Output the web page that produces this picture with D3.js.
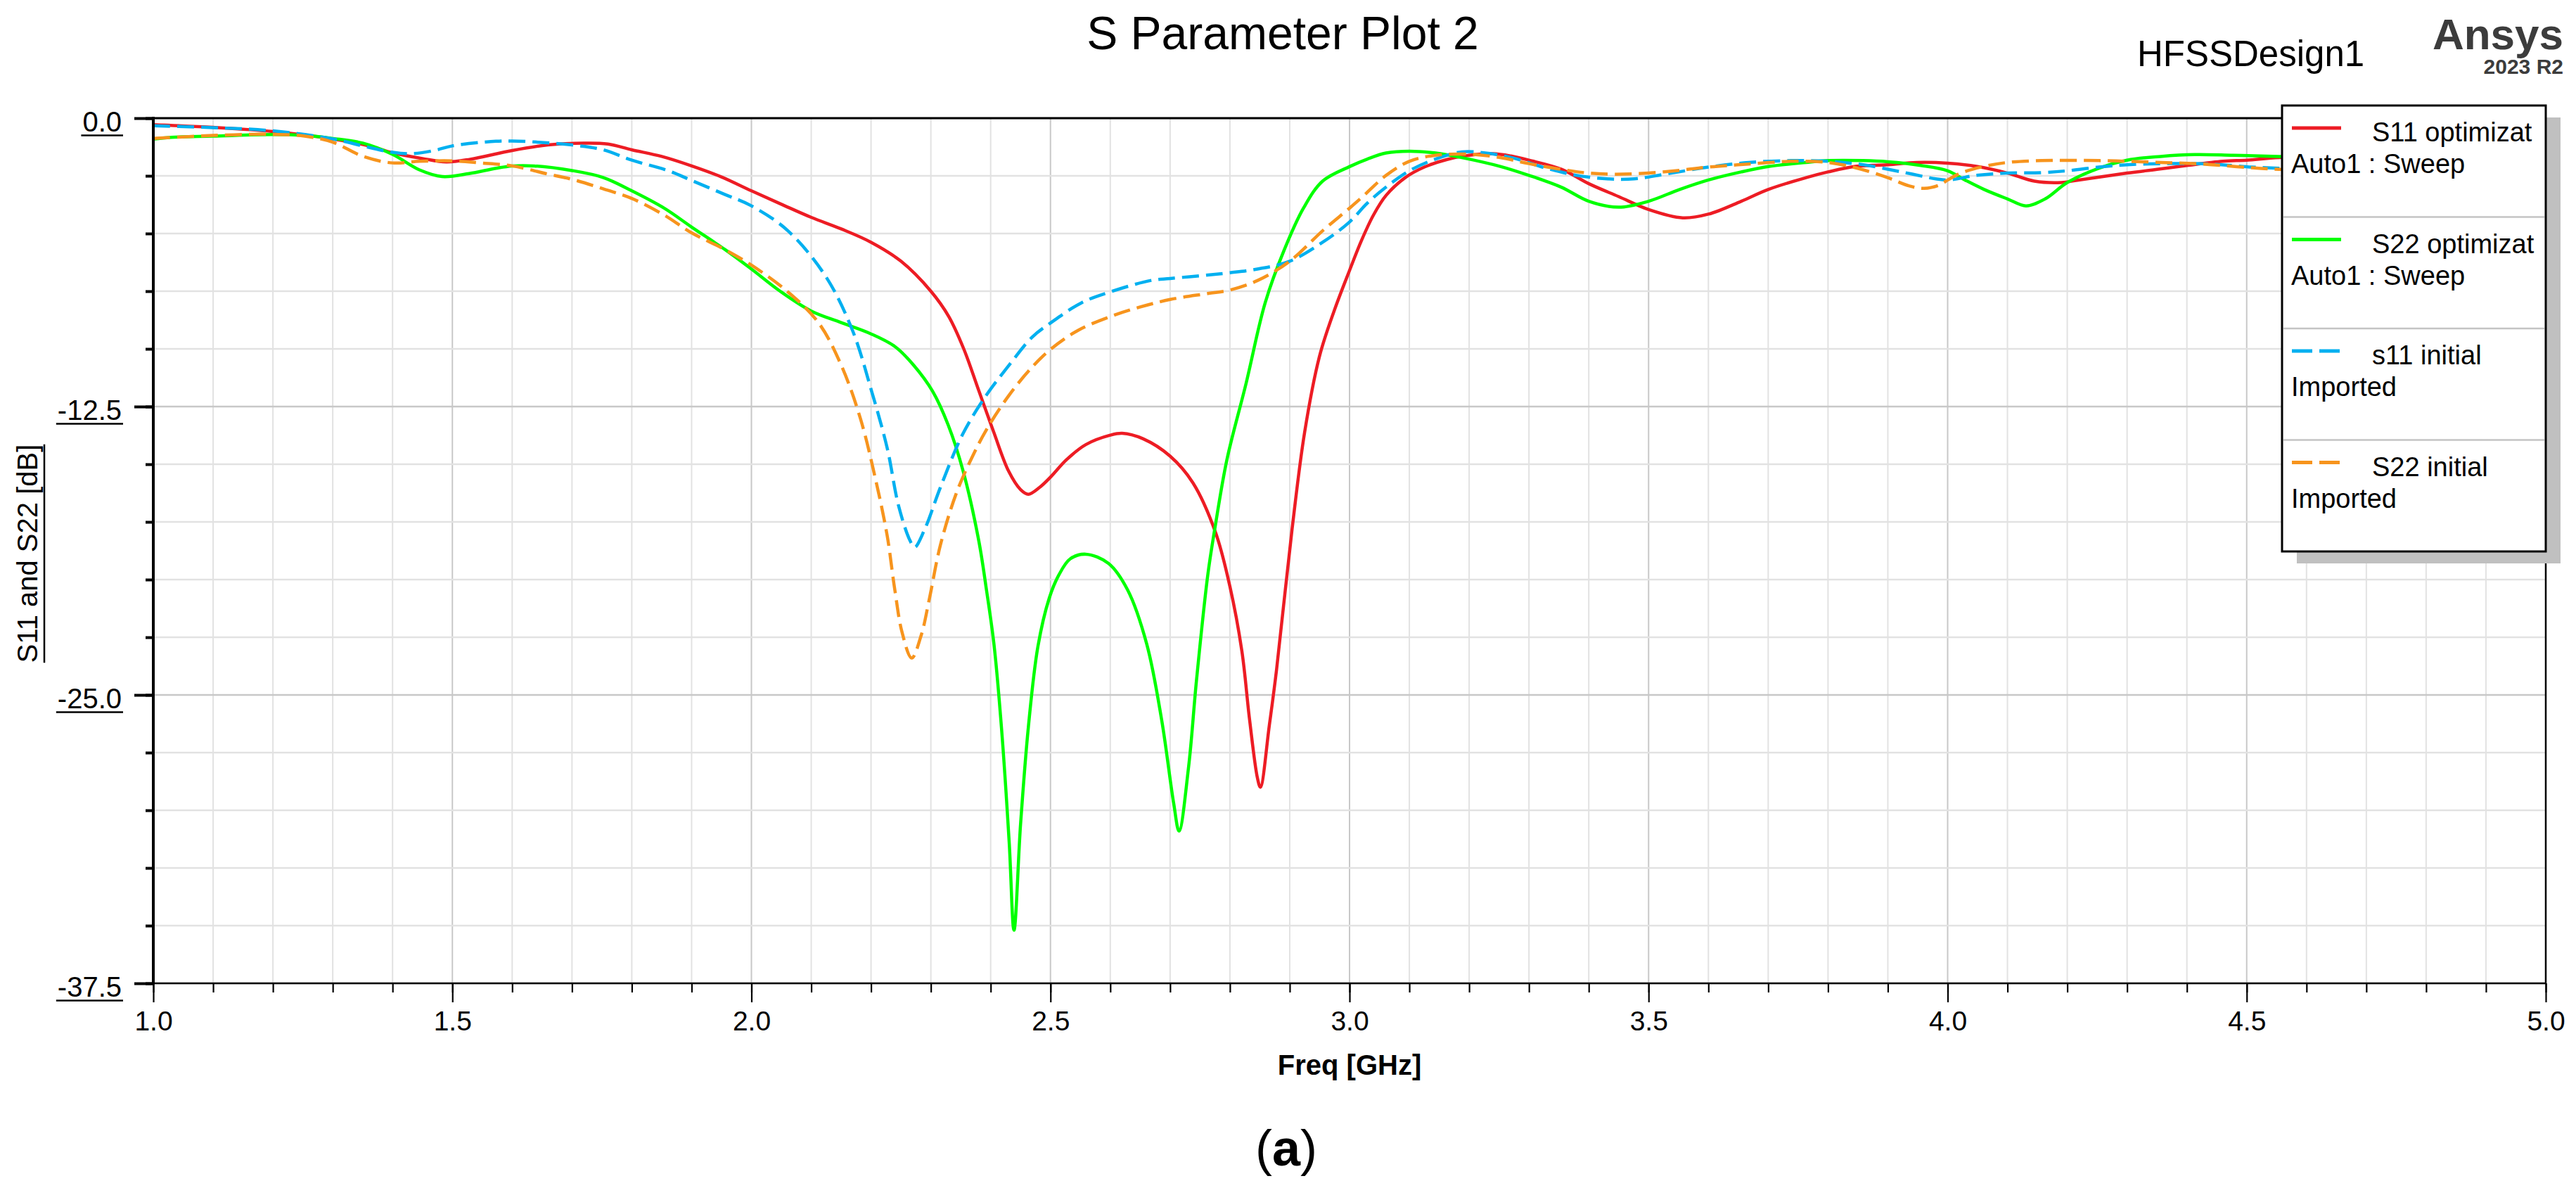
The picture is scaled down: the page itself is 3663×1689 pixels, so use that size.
<!DOCTYPE html>
<html lang="en">
<head>
    <meta charset="UTF-8">
    <title>S Parameter Plot 2</title>
    <style>
        body { margin: 0; background: #fff; }
        text { font-family: "Liberation Sans", Arial, sans-serif; }
    </style>
</head>
<body>
    <script src="https://d3js.org/d3.v7.min.js"></script>
    <script>
        // [freq GHz, dB]
        const s11Opt = [[1.00,-0.28],[1.10,-0.40],[1.20,-0.58],[1.30,-0.90],[1.36,-1.20],[1.40,-1.50],[1.45,-1.75],[1.49,-1.90],[1.53,-1.78],[1.60,-1.40],[1.66,-1.16],[1.72,-1.08],[1.76,-1.12],[1.80,-1.37],[1.85,-1.66],[1.90,-2.07],[1.95,-2.55],[2.00,-3.15],[2.05,-3.73],[2.10,-4.30],[2.15,-4.80],[2.20,-5.38],[2.25,-6.20],[2.30,-7.50],[2.33,-8.60],[2.355,-10.0],[2.38,-11.8],[2.405,-13.6],[2.43,-15.3],[2.45,-16.1],[2.463,-16.3],[2.482,-16.0],[2.50,-15.56],[2.527,-14.8],[2.559,-14.15],[2.60,-13.74],[2.62,-13.66],[2.655,-13.9],[2.70,-14.65],[2.738,-15.8],[2.776,-17.96],[2.80,-20.3],[2.82,-23.1],[2.833,-26.1],[2.846,-28.6],[2.851,-29.0],[2.866,-26.3],[2.878,-23.9],[2.904,-17.8],[2.925,-13.6],[2.95,-10.3],[2.975,-8.3],[3.00,-6.6],[3.02,-5.3],[3.04,-4.2],[3.061,-3.35],[3.093,-2.58],[3.125,-2.12],[3.163,-1.79],[3.20,-1.61],[3.24,-1.54],[3.27,-1.64],[3.30,-1.82],[3.355,-2.22],[3.40,-2.84],[3.45,-3.40],[3.50,-3.96],[3.557,-4.32],[3.60,-4.16],[3.655,-3.60],[3.70,-3.09],[3.763,-2.58],[3.80,-2.33],[3.846,-2.09],[3.90,-2.02],[3.948,-1.92],[4.00,-1.95],[4.048,-2.09],[4.10,-2.38],[4.145,-2.73],[4.19,-2.79],[4.215,-2.70],[4.30,-2.38],[4.35,-2.22],[4.40,-2.05],[4.46,-1.87],[4.50,-1.82],[4.555,-1.71],[4.70,-1.62],[4.85,-1.55],[5.00,-1.50]];

        const s22Opt = [[1.00,-0.91],[1.03,-0.83],[1.10,-0.78],[1.20,-0.71],[1.253,-0.75],[1.30,-0.88],[1.35,-1.08],[1.40,-1.57],[1.445,-2.24],[1.483,-2.53],[1.528,-2.40],[1.573,-2.17],[1.60,-2.07],[1.637,-2.07],[1.70,-2.27],[1.752,-2.57],[1.80,-3.15],[1.854,-3.90],[1.90,-4.72],[1.956,-5.70],[2.00,-6.54],[2.048,-7.50],[2.10,-8.36],[2.15,-8.86],[2.20,-9.35],[2.24,-9.90],[2.271,-10.7],[2.303,-11.84],[2.329,-13.3],[2.354,-15.3],[2.38,-18.3],[2.393,-20.45],[2.4055,-22.8],[2.418,-26.4],[2.431,-31.4],[2.439,-35.2],[2.45,-30.6],[2.463,-26.4],[2.479,-22.9],[2.498,-20.8],[2.514,-19.8],[2.533,-19.1],[2.559,-18.9],[2.597,-19.3],[2.629,-20.45],[2.661,-22.8],[2.686,-26.1],[2.706,-29.7],[2.715,-30.9],[2.731,-28.1],[2.744,-24.4],[2.763,-19.8],[2.776,-17.6],[2.795,-14.8],[2.827,-11.5],[2.859,-8.0],[2.891,-5.7],[2.923,-3.9],[2.955,-2.73],[3.00,-2.10],[3.03,-1.77],[3.061,-1.51],[3.10,-1.43],[3.144,-1.51],[3.188,-1.71],[3.252,-2.09],[3.30,-2.48],[3.354,-2.99],[3.40,-3.60],[3.45,-3.86],[3.50,-3.60],[3.552,-3.09],[3.60,-2.68],[3.655,-2.33],[3.702,-2.09],[3.763,-1.92],[3.80,-1.84],[3.859,-1.84],[3.90,-1.89],[3.955,-2.05],[4.00,-2.28],[4.029,-2.68],[4.061,-3.09],[4.10,-3.50],[4.131,-3.80],[4.163,-3.50],[4.20,-2.79],[4.253,-2.17],[4.30,-1.82],[4.356,-1.66],[4.413,-1.58],[4.477,-1.61],[4.554,-1.66],[4.70,-1.70],[4.85,-1.75],[5.00,-1.80]];

        const s11Init = [[1.00,-0.33],[1.10,-0.41],[1.20,-0.55],[1.30,-0.90],[1.356,-1.24],[1.40,-1.48],[1.432,-1.54],[1.47,-1.40],[1.50,-1.20],[1.573,-1.00],[1.60,-0.99],[1.637,-1.03],[1.70,-1.16],[1.752,-1.37],[1.80,-1.82],[1.86,-2.27],[1.90,-2.70],[1.956,-3.31],[2.00,-3.80],[2.061,-4.88],[2.1245,-6.87],[2.169,-9.2],[2.201,-11.84],[2.227,-14.3],[2.246,-16.8],[2.265,-18.3],[2.273,-18.6],[2.29,-17.8],[2.316,-16.0],[2.354,-13.66],[2.393,-12.0],[2.431,-10.7],[2.469,-9.5],[2.501,-8.86],[2.552,-8.0],[2.60,-7.53],[2.667,-7.04],[2.70,-6.95],[2.763,-6.80],[2.80,-6.70],[2.846,-6.54],[2.90,-6.20],[2.955,-5.38],[3.00,-4.50],[3.029,-3.70],[3.061,-2.99],[3.10,-2.28],[3.144,-1.77],[3.188,-1.46],[3.227,-1.51],[3.271,-1.71],[3.329,-2.17],[3.38,-2.48],[3.431,-2.63],[3.476,-2.63],[3.527,-2.43],[3.60,-2.12],[3.667,-1.92],[3.738,-1.84],[3.80,-1.87],[3.859,-2.02],[3.923,-2.33],[3.98,-2.63],[4.00,-2.68],[4.048,-2.48],[4.10,-2.38],[4.157,-2.36],[4.20,-2.28],[4.253,-2.12],[4.30,-2.02],[4.356,-1.97],[4.413,-1.97],[4.458,-2.02],[4.509,-2.12],[4.554,-2.17],[4.70,-2.25],[4.85,-2.30],[5.00,-2.30]];

        const s22Init = [[1.00,-0.88],[1.10,-0.75],[1.20,-0.70],[1.253,-0.78],[1.30,-1.04],[1.35,-1.65],[1.40,-1.94],[1.445,-1.87],[1.50,-1.85],[1.547,-1.94],[1.60,-2.07],[1.656,-2.40],[1.70,-2.65],[1.752,-3.06],[1.80,-3.48],[1.854,-4.20],[1.90,-4.97],[1.956,-5.70],[2.00,-6.37],[2.061,-7.53],[2.112,-8.86],[2.15,-10.7],[2.182,-13.0],[2.2075,-15.65],[2.227,-18.1],[2.2395,-20.4],[2.252,-22.3],[2.268,-23.4],[2.284,-22.4],[2.297,-20.9],[2.316,-18.5],[2.342,-16.3],[2.367,-14.8],[2.393,-13.5],[2.431,-12.0],[2.469,-10.8],[2.501,-10.0],[2.546,-9.2],[2.60,-8.6],[2.648,-8.2],[2.70,-7.86],[2.763,-7.60],[2.80,-7.45],[2.846,-7.04],[2.90,-6.20],[2.955,-4.88],[3.00,-3.90],[3.022,-3.40],[3.061,-2.48],[3.10,-1.87],[3.144,-1.61],[3.20,-1.56],[3.252,-1.71],[3.30,-1.97],[3.354,-2.22],[3.40,-2.38],[3.444,-2.43],[3.50,-2.38],[3.552,-2.26],[3.60,-2.12],[3.667,-1.99],[3.738,-1.87],[3.80,-1.92],[3.846,-2.15],[3.90,-2.58],[3.936,-2.94],[3.961,-3.04],[3.987,-2.89],[4.00,-2.68],[4.022,-2.38],[4.061,-2.09],[4.10,-1.92],[4.157,-1.84],[4.253,-1.84],[4.30,-1.87],[4.356,-1.92],[4.413,-1.97],[4.458,-2.05],[4.509,-2.15],[4.554,-2.22],[4.70,-2.35],[4.85,-2.40],[5.00,-2.45]];

        const xTicks = [1.0, 1.5, 2.0, 2.5, 3.0, 3.5, 4.0, 4.5, 5.0];
        const yTicks = [0, -12.5, -25, -37.5];
        const legendLines = [
            ["S11 optimizat", "Auto1 : Sweep"],
            ["S22 optimizat", "Auto1 : Sweep"],
            ["s11 initial", "Imported"],
            ["S22 initial", "Imported"]
        ];

        const series = [
            { data: s11Opt, color: "#ed1c24", dash: null },
            { data: s22Opt, color: "#00ff00", dash: null },
            { data: s11Init, color: "#00b0f0", dash: "24,10" },
            { data: s22Init, color: "#f7941d", dash: "24,10" }
        ];

        const W = 3663, H = 1689;
        const pL = 218, pR = 3620, pT = 168, pB = 1398;

        let svg = d3.select("body").append("svg")
            .attr("width", W)
            .attr("height", H);

        let x = d3.scaleLinear().domain([1, 5]).range([pL, pR]);
        let y = d3.scaleLinear().domain([-37.5, 0]).range([pB, pT]);
        let fmt = function(d){ return d.toFixed(1); };

        // grid
        let grid = svg.append("g");
        d3.range(41).forEach(function(i){
            let f = 1 + i * 0.1;
            grid.append("line")
                .attr("x1", x(f)).attr("x2", x(f))
                .attr("y1", pT).attr("y2", pB)
                .attr("stroke", i % 5 === 0 ? "#c8c8c8" : "#e2e2e2")
                .attr("stroke-width", 2);
        });
        d3.range(16).forEach(function(i){
            let v = -i * 2.5;
            grid.append("line")
                .attr("x1", pL).attr("x2", pR)
                .attr("y1", y(v)).attr("y2", y(v))
                .attr("stroke", i % 5 === 0 ? "#c8c8c8" : "#e2e2e2")
                .attr("stroke-width", 2.5);
        });

        // curves
        svg.append("clipPath").attr("id", "plotclip")
            .append("rect")
            .attr("x", pL).attr("y", pT)
            .attr("width", pR - pL).attr("height", pB - pT);

        let line = d3.line()
            .x(function(d){ return x(d[0]); })
            .y(function(d){ return y(d[1]); })
            .curve(d3.curveCatmullRom.alpha(0.5));

        svg.append("g").attr("clip-path", "url(#plotclip)")
            .selectAll("path").data(series).enter().append("path")
            .attr("d", function(d){ return line(d.data); })
            .attr("fill", "none")
            .attr("stroke", function(d){ return d.color; })
            .attr("stroke-width", 4.5)
            .attr("stroke-linejoin", "round")
            .attr("stroke-dasharray", function(d){ return d.dash; });

        // x axis
        let xMinor = d3.range(41).map(function(i){ return 1 + i * 0.1; });
        let xAxisMinor = svg.append("g")
            .attr("transform", "translate(0," + pB + ")")
            .call(d3.axisBottom(x).tickValues(xMinor).tickSize(13).tickFormat(""));
        let xAxis = svg.append("g")
            .attr("transform", "translate(0," + pB + ")")
            .call(d3.axisBottom(x).tickValues(xTicks).tickSize(27).tickPadding(12).tickFormat(fmt));
        [xAxisMinor, xAxis].forEach(function(g){
            g.select(".domain").remove();
            g.selectAll(".tick line").attr("stroke", "#000").attr("stroke-width", 2.2);
        });
        xAxis.selectAll(".tick text")
            .attr("font-size", 39)
            .attr("font-family", "Liberation Sans, Arial, sans-serif")
            .attr("fill", "#000");

        // y axis
        let yMinor = d3.range(16).map(function(i){ return -i * 2.5; });
        let yAxisMinor = svg.append("g")
            .attr("transform", "translate(" + pL + ",0)")
            .call(d3.axisLeft(y).tickValues(yMinor).tickSize(11).tickFormat(""));
        let yAxis = svg.append("g")
            .attr("transform", "translate(" + pL + ",0)")
            .call(d3.axisLeft(y).tickValues(yTicks).tickSize(27).tickPadding(18).tickFormat(fmt));
        [yAxisMinor, yAxis].forEach(function(g){
            g.select(".domain").remove();
            g.selectAll(".tick line").attr("stroke", "#000").attr("stroke-width", 4);
        });
        yAxis.selectAll(".tick text")
            .attr("font-size", 40)
            .attr("font-family", "Liberation Sans, Arial, sans-serif")
            .attr("fill", "#000")
            .attr("dy", "0.45em");
        // underline the y tick labels
        yAxis.selectAll(".tick").each(function(){
            let t = d3.select(this).select("text");
            let len = t.node().getComputedTextLength();
            let tx = -27 - 18;
            d3.select(this).append("line")
                .attr("x1", tx - len - 2).attr("x2", tx + 2)
                .attr("y1", 24).attr("y2", 24)
                .attr("stroke", "#000").attr("stroke-width", 2.5);
        });

        // frame
        let frame = svg.append("g").attr("stroke", "#000");
        frame.append("line").attr("x1", pL).attr("x2", pR).attr("y1", pT).attr("y2", pT).attr("stroke-width", 3);
        frame.append("line").attr("x1", pL).attr("x2", pR).attr("y1", pB).attr("y2", pB).attr("stroke-width", 2.5);
        frame.append("line").attr("x1", pR).attr("x2", pR).attr("y1", pT).attr("y2", pB).attr("stroke-width", 2.5);
        frame.append("line").attr("x1", pL).attr("x2", pL).attr("y1", pT - 2).attr("y2", pB + 1).attr("stroke-width", 4);

        // axis titles
        svg.append("text")
            .attr("x", (pL + pR) / 2).attr("y", 1528)
            .attr("text-anchor", "middle")
            .attr("font-size", 40).attr("font-weight", "bold")
            .text("Freq [GHz]");

        let yMid = (pT + pB) / 2 + 4;
        let yLab = svg.append("text")
            .attr("transform", "translate(53," + yMid + ") rotate(-90)")
            .attr("text-anchor", "middle")
            .attr("font-size", 40)
            .text("S11 and S22 [dB]");
        let yLen = yLab.node().getComputedTextLength();
        svg.append("line")
            .attr("x1", 63).attr("x2", 63)
            .attr("y1", yMid - yLen / 2)
            .attr("y2", yMid + yLen / 2)
            .attr("stroke", "#000").attr("stroke-width", 2.5);

        // titles
        svg.append("text")
            .attr("x", 1824).attr("y", 70)
            .attr("text-anchor", "middle")
            .attr("font-size", 66)
            .text("S Parameter Plot 2");
        svg.append("text")
            .attr("x", 3039).attr("y", 94)
            .attr("font-size", 51)
            .text("HFSSDesign1");
        svg.append("text")
            .attr("x", 3645).attr("y", 70)
            .attr("text-anchor", "end")
            .attr("font-size", 62).attr("font-weight", "bold")
            .attr("fill", "#3c3c3c")
            .text("Ansys");
        svg.append("text")
            .attr("x", 3645).attr("y", 105)
            .attr("text-anchor", "end")
            .attr("font-size", 30).attr("font-weight", "bold")
            .attr("fill", "#3c3c3c")
            .text("2023 R2");

        // legend
        let lgX = 3245, lgY = 150, lgW = 375, lgH = 634;
        let rowH = lgH / legendLines.length;
        svg.append("rect")
            .attr("x", lgX + 21).attr("y", lgY + 17)
            .attr("width", lgW).attr("height", lgH)
            .attr("fill", "#c0c0c0");
        svg.append("rect")
            .attr("x", lgX).attr("y", lgY)
            .attr("width", lgW).attr("height", lgH)
            .attr("fill", "#fff").attr("stroke", "#000").attr("stroke-width", 3);

        let rows = svg.append("g").selectAll("g").data(series).enter().append("g")
            .attr("transform", function(d, i){ return "translate(" + lgX + "," + (lgY + i * rowH) + ")"; });
        rows.filter(function(d, i){ return i > 0; }).append("line")
            .attr("x1", 2).attr("x2", lgW - 2)
            .attr("y1", 0).attr("y2", 0)
            .attr("stroke", "#c4c4c4").attr("stroke-width", 2.5);
        rows.append("line")
            .attr("x1", 14).attr("x2", 84)
            .attr("y1", 32).attr("y2", 32)
            .attr("stroke", function(d){ return d.color; })
            .attr("stroke-width", 5)
            .attr("stroke-dasharray", function(d){ return d.dash ? "29,10" : null; });
        rows.append("text")
            .attr("x", 128).attr("y", 51)
            .attr("font-size", 38)
            .text(function(d, i){ return legendLines[i][0]; });
        rows.append("text")
            .attr("x", 13).attr("y", 96)
            .attr("font-size", 38)
            .text(function(d, i){ return legendLines[i][1]; });

        // caption
        let cap = svg.append("text")
            .attr("x", 1829).attr("y", 1657)
            .attr("text-anchor", "middle")
            .attr("font-size", 72)
            .attr("font-family", "Liberation Serif, Times New Roman, serif");
        cap.append("tspan").text("(");
        cap.append("tspan").attr("font-weight", "bold").text("a");
        cap.append("tspan").text(")");
    </script>
</body>
</html>
